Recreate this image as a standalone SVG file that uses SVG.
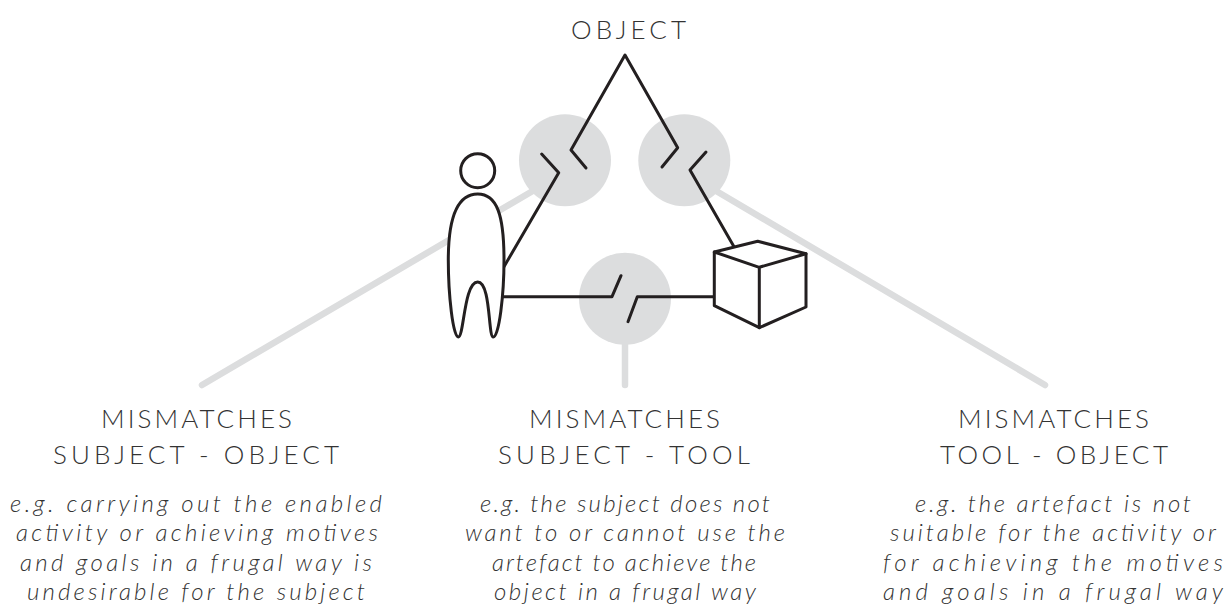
<svg xmlns="http://www.w3.org/2000/svg" width="1227" height="606" viewBox="0 0 1227 606">
<style>
.g{fill:none;stroke:#dcddde;stroke-width:6.5;stroke-linecap:round}
.c{fill:#dcddde}
.k{fill:none;stroke:#231f20;stroke-width:3;stroke-linecap:round;stroke-linejoin:round}
.s{fill:#fff;stroke:#231f20;stroke-width:3;stroke-linejoin:round}
text{font-family:"Lato","Liberation Sans",sans-serif;font-weight:300;fill:#333;text-anchor:start}
.h{font-size:26px}
.b{font-size:24px;font-style:italic}
</style>
<rect width="1227" height="606" fill="#fff"/>
<g id="connectors">
<path class="g" d="M202 385L565 172M625 298V385M1045 385L684 172"/>
<circle class="c" cx="565" cy="160.3" r="46"/>
<circle class="c" cx="684.3" cy="160.3" r="46"/>
<circle class="c" cx="625" cy="298.7" r="46"/>
<path class="k" d="M586 168L571 150L625 55L677.700 147.700L662 167"/>
<path class="k" d="M541.700 154L558.700 172.700L504 266.700"/>
<path class="k" d="M706 152L690 170L734 246.700"/>
<path class="k" d="M502 296.700H612L621 275.700"/>
<path class="k" d="M628 321.700L637.300 296.700H714.300"/>
</g>
<g id="subject">
<circle class="s" cx="477.700" cy="170.700" r="17"/>
<path class="s" d="M477.700 194C458 194 448.300 215 448.300 260C448.300 295 453 337 458.300 337C464 337 464 282 477.700 282C491 282 488 337 493.300 337C499 337 504 295 504 260C504 215 497 194 477.700 194Z"/>
</g>
<g id="tool">
<path class="s" d="M714.300 252L757.700 241.300L806 253.700V307L759.300 327.700L714.300 305.700Z"/>
<path class="k" d="M714.300 252L759.300 267.300L806 253.700M759.300 267.300V327.700"/>
</g>
<g id="object"><text class="h" x="571" y="39" textLength="115">OBJECT</text></g>
<g id="label-subject-object">
<text class="h" x="101" y="428" textLength="191">MISMATCHES</text>
<text class="h" x="53" y="464" textLength="286">SUBJECT - OBJECT</text>
<text class="b" x="10" y="512" textLength="372">e.g. carrying out the enabled</text>
<text class="b" x="16" y="541" textLength="362">activity or achieving motives</text>
<text class="b" x="20" y="571" textLength="352">and goals in a frugal way is</text>
<text class="b" x="27" y="600" textLength="338">undesirable for the subject</text>
</g>
<g id="label-subject-tool">
<text class="h" x="529" y="428" textLength="191">MISMATCHES</text>
<text class="h" x="498" y="464" textLength="252">SUBJECT - TOOL</text>
<text class="b" x="480" y="512" textLength="290">e.g. the subject does not</text>
<text class="b" x="465" y="541" textLength="320">want to or cannot use the</text>
<text class="b" x="492" y="571" textLength="264">artefact to achieve the</text>
<text class="b" x="494" y="600" textLength="262">object in a frugal way</text>
</g>
<g id="label-tool-object">
<text class="h" x="958" y="428" textLength="191">MISMATCHES</text>
<text class="h" x="940" y="464" textLength="228">TOOL - OBJECT</text>
<text class="b" x="915" y="512" textLength="276">e.g. the artefact is not</text>
<text class="b" x="890" y="541" textLength="326">suitable for the activity or</text>
<text class="b" x="883" y="571" textLength="340">for achieving the motives</text>
<text class="b" x="883" y="600" textLength="340">and goals in a frugal way</text>
</g>
</svg>
